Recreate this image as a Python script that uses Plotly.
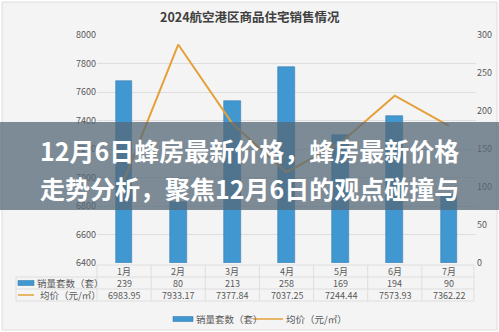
import plotly.graph_objects as go

# 2024 monthly residential sales, airport economy zone
months = ["1月", "2月", "3月", "4月", "5月", "6月", "7月"]
units_sold = [239, 80, 213, 258, 169, 194, 90]
avg_price = [6983.95, 7933.17, 7377.84, 7037.25, 7244.44, 7573.93, 7362.22]
price_labels = ["6983.95", "7933.17", "7377.84", "7037.25", "7244.44", "7573.93", "7362.22"]

title_text = "2024航空港区商品住宅销售情况"
units_name = "销量套数（套）"
price_name = "均价（元/㎡）"
banner_lines = ["12月6日蜂房最新价格，蜂房最新价格", "走势分析，聚焦12月6日的观点碰撞与"]

W, H = 499, 332
FONT = "Noto Sans CJK SC"
BAR_COLOR = "#4197cf"
LINE_COLOR = "#e6a03a"
TXT = "#595959"
GRID = "#dedede"


def px(x):
    return x / W


def py(y):
    return 1 - y / H


X0, X1 = 97, 476          # plot area, pixels
Y_TOP, Y_BOT = 35, 263

fig = go.Figure()

fig.add_trace(go.Bar(
    x=months, y=units_sold, name=units_name, yaxis="y",
    width=0.31, marker=dict(color=BAR_COLOR, line=dict(color="#3a7db5", width=0.6)),
))
fig.add_trace(go.Scatter(
    x=months, y=avg_price, name=price_name, yaxis="y2", mode="lines",
    line=dict(color=LINE_COLOR, width=2),
))

shapes = []
annotations = []


def label(x, y, text, size=9, color=TXT, xanchor="center", xref="paper", bold=False):
    annotations.append(dict(
        x=x, xref=xref, y=py(y), yref="paper", text=("<b>%s</b>" % text) if bold else text,
        xanchor=xanchor, yanchor="middle", showarrow=False,
        font=dict(family=FONT, size=size, color=color)))


# chart frame
shapes.append(dict(type="rect", xref="paper", yref="paper", layer="below",
                   x0=px(2), x1=px(497), y0=py(330), y1=py(2),
                   fillcolor="#f4f4f4", line=dict(color="#dcdcdc", width=1)))

# data table below the plot
col_w = (X1 - X0) / len(months)
row_lines = [265, 277, 289, 301]
for y in row_lines:
    shapes.append(dict(type="line", xref="paper", yref="paper", layer="below",
                       x0=px(16 if y != row_lines[0] else X0), x1=px(474),
                       y0=py(y), y1=py(y), line=dict(color=GRID, width=1)))
for i in range(len(months) + 1):
    xx = X0 + i * col_w if i < len(months) else 474
    shapes.append(dict(type="line", xref="paper", yref="paper", layer="below",
                       x0=px(xx), x1=px(xx), y0=py(301), y1=py(265),
                       line=dict(color=GRID, width=1)))
shapes.append(dict(type="line", xref="paper", yref="paper", layer="below",
                   x0=px(16), x1=px(16), y0=py(301), y1=py(277),
                   line=dict(color=GRID, width=1)))

rows = [(271, months), (283, [str(v) for v in units_sold]), (295, price_labels)]
for yc, vals in rows:
    for m, v in zip(months, vals):
        label(m, yc, v, xref="x")

# row keys in the table
shapes.append(dict(type="rect", xref="paper", yref="paper", x0=px(18), x1=px(34),
                   y0=py(285.5), y1=py(280.5), fillcolor=BAR_COLOR, line=dict(color="#3a7db5", width=0.6)))
shapes.append(dict(type="line", xref="paper", yref="paper", x0=px(18), x1=px(34),
                   y0=py(295), y1=py(295), line=dict(color=LINE_COLOR, width=1.5)))
label(px(35), 283, units_name, size=9.5, xanchor="left")
label(px(38), 295, price_name, size=9.5, xanchor="left")

# bottom legend
shapes.append(dict(type="rect", xref="paper", yref="paper", x0=px(173), x1=px(193),
                   y0=py(321.5), y1=py(316.5), fillcolor=BAR_COLOR, line=dict(color="#3a7db5", width=0.6)))
shapes.append(dict(type="line", xref="paper", yref="paper", x0=px(253), x1=px(283),
                   y0=py(319), y1=py(319), line=dict(color=LINE_COLOR, width=1.5)))
label(px(194), 319, units_name, size=9.5, xanchor="left")
label(px(284), 319, price_name, size=9.5, xanchor="left")

# title
label(px(250), 16, title_text, size=12.5, color="#404040", bold=True)

# headline banner across the chart
shapes.append(dict(type="rect", xref="paper", yref="paper", layer="above",
                   x0=0, x1=1, y0=py(210), y1=py(122),
                   fillcolor="rgba(85,104,119,0.75)", line=dict(width=0)))
for yc, line in zip([150, 188], banner_lines):
    label(px(38), yc, line, size=25, color="white", xanchor="left", bold=True)

fig.update_layout(
    width=W, height=H, margin=dict(l=0, r=0, t=0, b=0, pad=0, autoexpand=False),
    paper_bgcolor="white", plot_bgcolor="rgba(0,0,0,0)",
    showlegend=False, bargap=0,
    font=dict(family=FONT, size=9, color=TXT),
    xaxis=dict(domain=[px(X0), px(X1)], range=[-0.5, 6.5], showticklabels=False,
               showgrid=False, zeroline=False, showline=False, ticks="", automargin=False),
    yaxis=dict(domain=[py(Y_BOT), py(Y_TOP)], range=[0, 300], side="right",
               tickvals=[0, 50, 100, 150, 200, 250, 300], showgrid=False, zeroline=False,
               tickfont=dict(family=FONT, size=9, color=TXT), ticks="", automargin=False),
    yaxis2=dict(domain=[py(Y_BOT), py(Y_TOP)], range=[6400, 8000], side="left", overlaying="y",
                tickvals=list(range(6400, 8001, 200)), showgrid=True, gridcolor=GRID, gridwidth=1,
                zeroline=False, tickfont=dict(family=FONT, size=9, color=TXT), ticks="",
                automargin=False),
    shapes=shapes, annotations=annotations,
)

fig.write_html("out.html")
